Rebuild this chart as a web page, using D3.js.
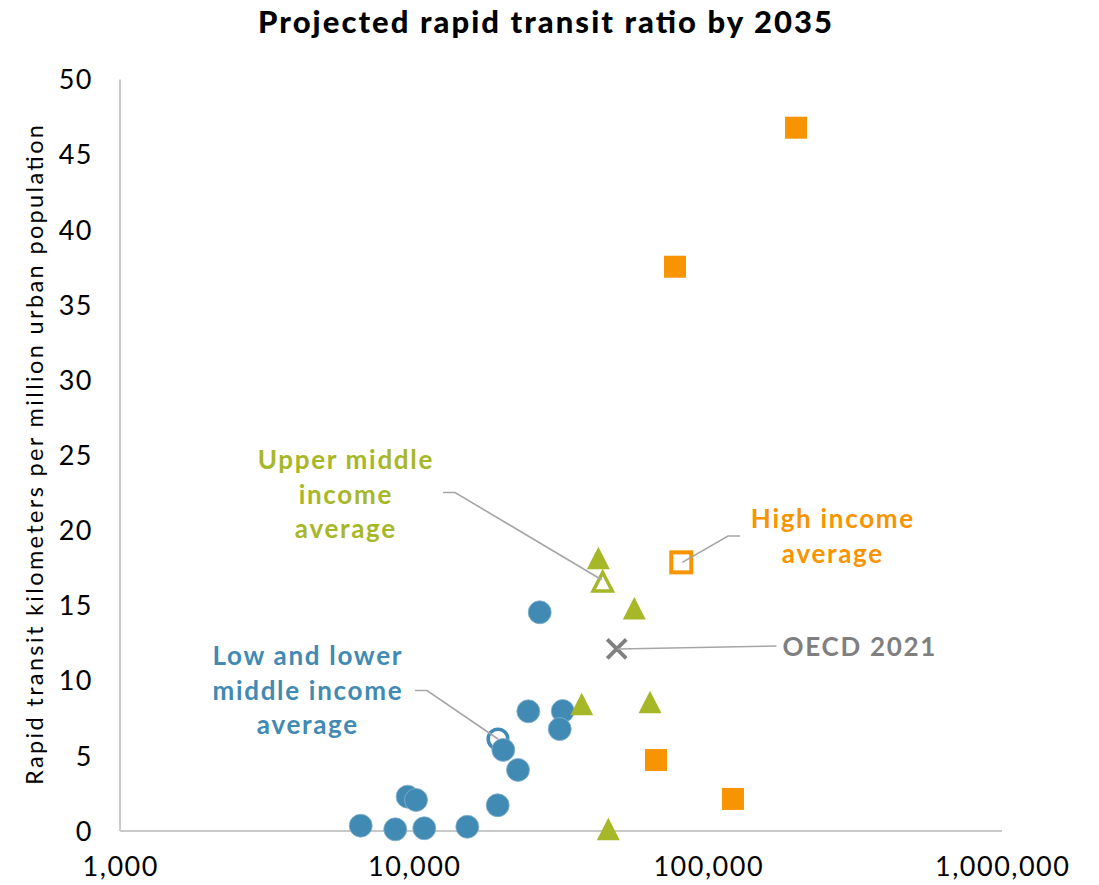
<!DOCTYPE html>
<html>
<head>
<meta charset="utf-8">
<script src="https://cdn.jsdelivr.net/npm/d3@7"></script>
<style>
  html, body { margin: 0; padding: 0; background: #fff; }
  svg { display: block; }
</style>
</head>
<body>
<svg id="chart" width="1099" height="885"></svg>
<script>
// ---------- DATA ----------
const title = "Projected rapid transit ratio by 2035";
const yAxisTitle = "Rapid transit kilometers per million urban population";
const xTickValues = [1000, 10000, 100000, 1000000];
const yTickValues = [0, 5, 10, 15, 20, 25, 30, 35, 40, 45, 50];

// Low and lower middle income countries (x, y)
const lowX = [6614, 8670, 10880, 15240, 9550, 10200, 19340, 22670, 20200, 24580, 32180, 31430, 26870];
const lowY = [0.32, 0.08, 0.15, 0.25, 2.25, 2.03, 1.68, 4.03, 5.36, 7.93, 7.95, 6.75, 14.52];
// Upper middle income
const umX = [42530, 56360, 37340, 63750, 45980];
const umY = [18.13, 14.78, 8.42, 8.55, 0.1];
// High income
const highX = [200000, 77520, 66790, 122070];
const highY = [46.76, 37.51, 4.69, 2.10];
// Averages
const lowAvg = [19380, 6.09];
const umAvg = [44000, 16.55];
const highAvg = [81440, 17.84];
const oecd = [49120, 12.08];

const labels = {
  low: ["Low and lower", "middle income", "average"],
  um: ["Upper middle", "income", "average"],
  high: ["High income", "average"],
  oecd: ["OECD 2021"]
};

// ---------- STYLE ----------
const BLUE = "#418AB3", GREEN = "#A6B727", ORANGE = "#F79400", GRAY = "#7F7F7F";
const FONT = "Lato, 'Open Sans', sans-serif";

const svg = d3.select("#chart");
const x = d3.scaleLog().domain([1000, 1000000]).range([119.5, 1001.5]);
const y = d3.scaleLinear().domain([0, 50]).range([830.5, 79]);

// Title
svg.append("text")
  .attr("x", 545).attr("y", 33)
  .attr("text-anchor", "middle")
  .attr("textLength", 574).attr("lengthAdjust", "spacing")
  .style("font-family", FONT).style("font-weight", 900).style("font-size", "31px")
  .attr("fill", "#000")
  .text(title);

// Y axis title
svg.append("text")
  .attr("transform", "translate(43,455) rotate(-90)")
  .attr("text-anchor", "middle")
  .attr("textLength", 660).attr("lengthAdjust", "spacing")
  .style("font-family", FONT).style("font-size", "23.5px")
  .attr("fill", "#000")
  .text(yAxisTitle);

// Axes
const yAxis = svg.append("g")
  .attr("transform", `translate(${x.range()[0]},0)`)
  .call(d3.axisLeft(y).tickValues(yTickValues).tickSize(0).tickPadding(26.5).tickFormat(d3.format("d")));
const xAxis = svg.append("g")
  .attr("transform", `translate(0,${y.range()[0]})`)
  .call(d3.axisBottom(x).tickValues(xTickValues).tickSize(0).tickFormat(d3.format(",")));

[yAxis, xAxis].forEach(g => {
  g.select(".domain").attr("stroke", "#C9C9C9").attr("stroke-width", 2);
  g.selectAll("text").style("font-family", FONT).style("font-size", "27px")
    .style("letter-spacing", "1.5px").attr("fill", "#000");
});
xAxis.selectAll("text").attr("y", 0).attr("dy", "45px").attr("dx", "0.75px");
yAxis.selectAll("text").attr("dy", "0.36em");

const plot = svg.append("g");

// Average (hollow) markers
plot.append("circle")
  .attr("cx", x(lowAvg[0])).attr("cy", y(lowAvg[1])).attr("r", 9.8)
  .attr("fill", "none").attr("stroke", BLUE).attr("stroke-width", 3.5);

// Low income circles
plot.selectAll("circle.low").data(lowX.map((v, i) => [v, lowY[i]])).enter()
  .append("circle").attr("class", "low")
  .attr("cx", d => x(d[0])).attr("cy", d => y(d[1])).attr("r", 11.5)
  .attr("fill", BLUE).attr("stroke", "#86b3cf").attr("stroke-width", 0.8);

// Triangle helper
function tri(cx, cy, hw, h) {
  return `M${cx},${cy - h / 2}L${cx + hw},${cy + h / 2}L${cx - hw},${cy + h / 2}Z`;
}
plot.append("path")
  .attr("d", tri(x(umAvg[0]), y(umAvg[1]), 9.6, 18.5))
  .attr("fill", "#fff").attr("stroke", GREEN).attr("stroke-width", 3.5).attr("stroke-linejoin", "miter");
plot.selectAll("path.um").data(umX.map((v, i) => [v, umY[i]])).enter()
  .append("path").attr("class", "um")
  .attr("d", d => tri(x(d[0]), y(d[1]), 11.5, 22.5))
  .attr("fill", GREEN);

// Squares
plot.append("rect")
  .attr("x", x(highAvg[0]) - 10).attr("y", y(highAvg[1]) - 10)
  .attr("width", 20).attr("height", 20)
  .attr("fill", "#fff").attr("stroke", ORANGE).attr("stroke-width", 4);
plot.selectAll("rect.high").data(highX.map((v, i) => [v, highY[i]])).enter()
  .append("rect").attr("class", "high")
  .attr("x", d => x(d[0]) - 11).attr("y", d => y(d[1]) - 11)
  .attr("width", 22).attr("height", 22)
  .attr("fill", ORANGE);

// OECD X marker
const ox = x(oecd[0]), oy = y(oecd[1]);
plot.append("path")
  .attr("d", `M${ox - 9.5},${oy - 9.5}L${ox + 9.5},${oy + 9.5}M${ox + 9.5},${oy - 9.5}L${ox - 9.5},${oy + 9.5}`)
  .attr("stroke", GRAY).attr("stroke-width", 3.8).attr("fill", "none");

// Leader lines
const LINE = "#A6A6A6";
function leader(points) {
  plot.append("path").attr("d", d3.line()(points))
    .attr("fill", "none").attr("stroke", LINE).attr("stroke-width", 1.6);
}
leader([[443, 492.5], [455, 492.5], [x(umAvg[0]) - 1, y(umAvg[1]) - 2]]);
leader([[740, 536], [728, 536], [x(highAvg[0]) + 1, y(highAvg[1])]]);
leader([[776.5, 646], [ox + 1, oy]]);
leader([[415, 690.5], [427, 690.5], [x(lowAvg[0]), y(lowAvg[1])]]);

// Labels
function label(lines, cx, y0, color) {
  const t = svg.append("text")
    .attr("text-anchor", "middle")
    .style("font-family", FONT).style("font-weight", 700).style("font-size", "26px")
    .style("letter-spacing", "1.7px")
    .attr("fill", color);
  lines.forEach((s, i) => t.append("tspan").attr("x", cx + 0.85).attr("y", y0 + i * 34.5).text(s));
}
label(labels.um, 345, 469, GREEN);
label(labels.low, 307, 665, BLUE);
label(labels.high, 832, 528, ORANGE);
label(labels.oecd, 859, 656, GRAY);
</script>
</body>
</html>
